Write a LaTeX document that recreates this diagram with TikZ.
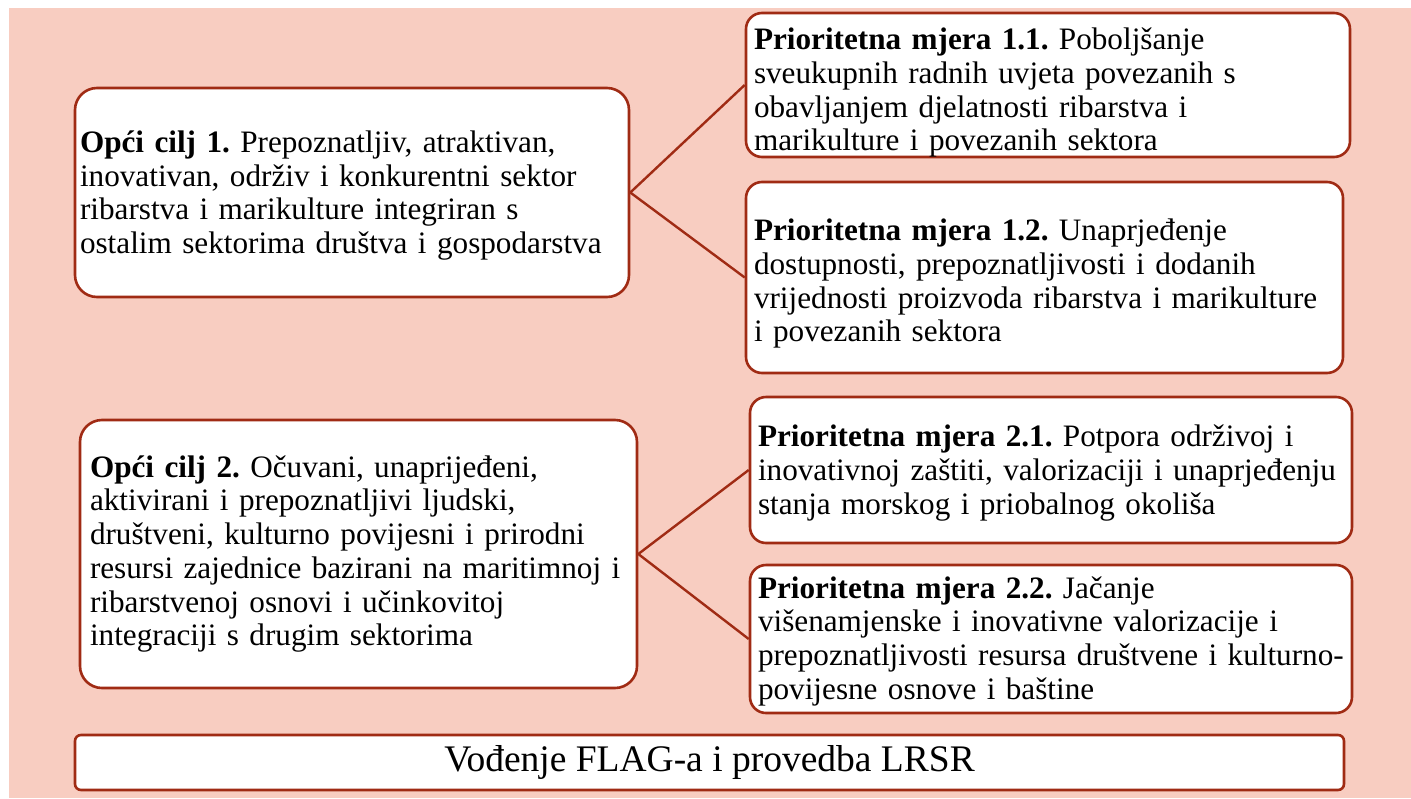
\documentclass[tikz,border=0pt]{standalone}
\usepackage{fontspec}
\setmainfont{Liberation Serif}
\frenchspacing
\definecolor{flagpink}{RGB}{248,205,193}
\definecolor{flagred}{RGB}{160,43,20}
\begin{document}
\begin{tikzpicture}[x=1pt,y=-1pt,
    basebox/.style={draw=flagred,line width=2.6pt,fill=white,align=left,
      font=\fontsize{31.2}{33.7}\selectfont,inner ysep=0pt},
    goalbox/.style={basebox,rounded corners=22pt},
    measurebox/.style={basebox,rounded corners=16pt,inner xsep=8pt},
    textdrop/.style={execute at begin node={\rule{0pt}{\dimexpr 22pt+#1\relax}},
      execute at end node={\vspace*{-#1}}},
    flagbox/.style={draw=flagred,line width=2.6pt,fill=white,rounded corners=6pt,
      font=\fontsize{37.5}{42}\selectfont,minimum width=1269pt,minimum height=55pt},
    link/.style={draw=flagred,line width=2.4pt}]
  \useasboundingbox (0,0) rectangle (1411,798);
  \fill[white] (0,0) rectangle (1411,798);
  \fill[flagpink] (9,8) rectangle (1411,798);

  \node[goalbox,inner xsep=5pt,text width=544pt,minimum height=209pt,textdrop=3pt] (goal1) at (352,192.5)
    {\textbf{Opći cilj 1.} Prepoznatljiv, atraktivan,\\
     inovativan, održiv i konkurentni sektor\\
     ribarstva i marikulture integriran s\\
     ostalim sektorima društva i gospodarstva};
  \node[measurebox,text width=588pt,minimum height=144pt,textdrop=7.5pt] (m11) at (1048,85)
    {\textbf{Prioritetna mjera 1.1.} Poboljšanje\\
     sveukupnih radnih uvjeta povezanih s\\
     obavljanjem djelatnosti ribarstva i\\
     marikulture i povezanih sektora};
  \node[measurebox,text width=581pt,minimum height=191pt,textdrop=6pt] (m12) at (1044.5,277.5)
    {\textbf{Prioritetna mjera 1.2.} Unaprjeđenje\\
     dostupnosti, prepoznatljivosti i dodanih\\
     vrijednosti proizvoda ribarstva i marikulture\\
     i povezanih sektora};

  \node[goalbox,inner xsep=10pt,text width=537pt,minimum height=268pt] (goal2) at (358.5,554)
    {\textbf{Opći cilj 2.} Očuvani, unaprijeđeni,\\
     aktivirani i prepoznatljivi ljudski,\\
     društveni, kulturno povijesni i prirodni\\
     resursi zajednice bazirani na maritimnoj i\\
     ribarstvenoj osnovi i učinkovitoj\\
     integraciji s drugim sektorima};
  \node[measurebox,text width=586pt,minimum height=146pt,textdrop=3pt] (m21) at (1051,470)
    {\textbf{Prioritetna mjera 2.1.} Potpora održivoj i\\
     inovativnoj zaštiti, valorizaciji i unaprjeđenju\\
     stanja morskog i priobalnog okoliša};
  \node[measurebox,text width=586pt,minimum height=148pt,textdrop=2pt] (m22) at (1051,639)
    {\textbf{Prioritetna mjera 2.2.} Jačanje\\
     višenamjenske i inovativne valorizacije i\\
     prepoznatljivosti resursa društvene i kulturno-\\
     povijesne osnove i baštine};

  \node[flagbox] (flag) at (709.5,762.5) {Vođenje FLAG-a i provedba LRSR};

  \draw[link] (goal1.east) -- (m11.west);
  \draw[link] (goal1.east) -- (m12.west);
  \draw[link] (goal2.east) -- (m21.west);
  \draw[link] (goal2.east) -- (m22.west);
\end{tikzpicture}
\end{document}
